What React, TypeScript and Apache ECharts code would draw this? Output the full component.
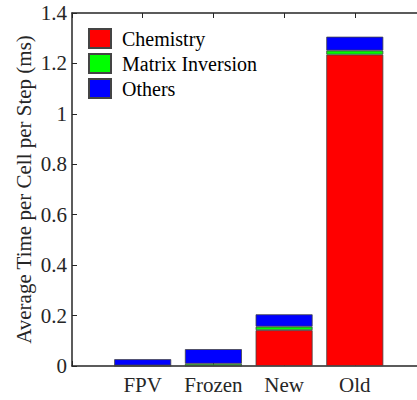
import React, { useEffect, useRef } from "react";
import * as echarts from "echarts";

const categories = ["", "FPV", "Frozen", "New", "Old", ""];
const chemistry = [null, 0.001, 0.001, 0.142, 1.235, null];
const matrixInversion = [null, 0.001, 0.008, 0.014, 0.016, null];
const others = [null, 0.025, 0.058, 0.049, 0.055, null];
const seriesNames = ["Chemistry", "Matrix Inversion", "Others"];
const seriesColors = ["#ff0000", "#00ff00", "#0000ff"];
const yAxisTitle = "Average Time per Cell per Step (ms)";

const FONT = "Liberation Serif, Times New Roman, serif";
const AXIS = "#262626";

export default function App() {
  const ref = useRef<HTMLDivElement>(null);
  useEffect(() => {
    if (!ref.current) return;
    const chart = echarts.init(ref.current, null, { renderer: "svg" });
    const dataSets = [chemistry, matrixInversion, others];
    chart.setOption({
      animation: false,
      textStyle: { fontFamily: FONT, fontStyle: "normal", fontWeight: "normal" },
      grid: { left: 72, top: 13, width: 353.5, height: 353, outerBoundsMode: "none", containLabel: false },
      legend: {
        left: 88,
        top: 28,
        padding: 0,
        orient: "vertical",
        icon: "rect",
        itemWidth: 22,
        itemHeight: 19,
        itemGap: 4,
        data: seriesNames,
        textStyle: {
          fontFamily: FONT,
          fontStyle: "normal",
          fontWeight: "normal",
          fontSize: 20,
          color: "#000",
          padding: [0, 0, 0, 6],
        },
      },
      graphic: [
        {
          type: "text",
          x: 24,
          y: 189.5,
          rotation: Math.PI / 2,
          style: {
            text: yAxisTitle,
            fontFamily: FONT,
            fontStyle: "normal",
            fontWeight: "normal",
            fontSize: 21,
            fill: "#262626",
            align: "center",
            verticalAlign: "middle",
          },
        },
      ],
      xAxis: [
        {
          type: "category",
          data: categories,
          boundaryGap: false,
          axisLine: { lineStyle: { color: AXIS, width: 1.5 } },
          axisTick: { inside: true, length: 5, lineStyle: { color: AXIS } },
          axisLabel: {
            fontFamily: FONT,
            fontStyle: "normal",
            fontWeight: "normal",
            fontSize: 21,
            color: "#262626",
            margin: 8,
            interval: 0,
          },
          splitLine: { show: false },
        },
        {
          type: "category",
          data: categories,
          position: "top",
          boundaryGap: false,
          axisLine: { lineStyle: { color: AXIS, width: 1.5 } },
          axisTick: { inside: true, length: 5, lineStyle: { color: AXIS } },
          axisLabel: { show: false },
        },
      ],
      yAxis: {
        type: "value",
        min: 0,
        max: 1.4,
        interval: 0.2,
        axisLine: { show: true, lineStyle: { color: AXIS, width: 1.5 } },
        axisTick: { show: true, inside: true, length: 5, lineStyle: { color: AXIS } },
        axisLabel: {
          fontFamily: FONT,
          fontStyle: "normal",
          fontWeight: "normal",
          fontSize: 21,
          color: "#262626",
          margin: 5,
        },
        splitLine: { show: false },
      },
      series: seriesNames.map((name, i) => ({
        name,
        type: "bar",
        stack: "total",
        barWidth: 57,
        data: dataSets[i],
        itemStyle: { color: seriesColors[i], borderColor: "#444", borderWidth: 0.8 },
      })),
    });
    return () => chart.dispose();
  }, []);
  return (
    <div
      ref={ref}
      style={{ position: "fixed", left: 0, top: 0, width: 417, height: 400, background: "#ffffff" }}
    />
  );
}
